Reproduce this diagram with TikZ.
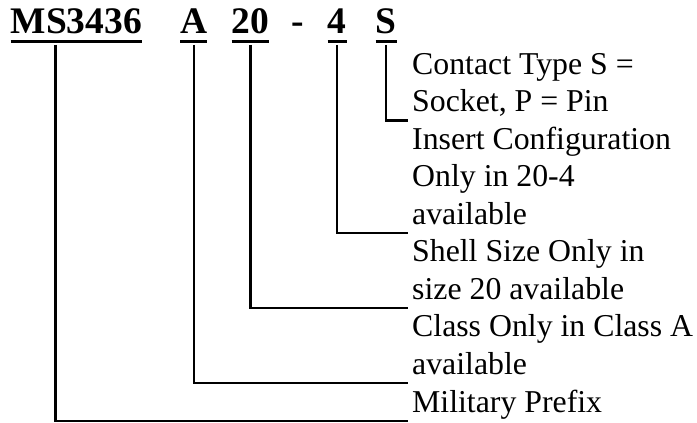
\documentclass[tikz,border=0pt]{standalone}
\usepackage{fontspec}
\setmainfont{Liberation Serif}
\begin{document}
\begin{tikzpicture}[x=1pt,y=1pt,
    code/.style={inner sep=0pt, anchor=base west, font=\fontsize{37.5}{40}\selectfont\bfseries},
    desc/.style={inner sep=0pt, anchor=base west, align=left, font=\fontsize{31.8}{37.5}\selectfont},
    uline/.style={line width=2.8pt},
    conn/.style={line width=2.4pt}]
    \useasboundingbox (0,0) rectangle (697,423);

    % part number
    \node[code] (prefix) at (10.5,389) {MS3436};
    \node[code] (cls) at (180,389) {A};
    \node[code] (size) at (231.5,389) {20};
    \node[code] (dash) at (291,389) {-};
    \node[code] (insert) at (327.5,389) {4};
    \node[code] (contact) at (375.5,389) {S};

    % underlines
    \foreach \n in {prefix,cls,size,insert,contact}
        \draw[uline] ([yshift=-7.5pt]\n.base west) -- ([yshift=-7.5pt]\n.base east);

    % descriptions
    \node[desc] (contacttxt) at (412,311) {Contact Type S =\\Socket, P = Pin};
    \node[desc] (inserttxt) at (412,198.5) {Insert Configuration\\Only in 20-4\\available};
    \node[desc] (sizetxt) at (412,123.5) {Shell Size Only in\\size 20 available};
    \node[desc] (clstxt) at (412,48.5) {Class Only in Class A\\available};
    \node[desc] (prefixtxt) at (412,10.5) {Military Prefix};

    % leaders
    \draw[conn] ([yshift=-11pt]contact.base) |- ([xshift=-4pt,yshift=-8.5pt]contacttxt.base west);
    \draw[conn] ([yshift=-11pt]insert.base) |- ([xshift=-4pt,yshift=-8.5pt]inserttxt.base west);
    \draw[conn] ([yshift=-11pt]size.base) |- ([xshift=-4pt,yshift=-8.5pt]sizetxt.base west);
    \draw[conn] ([yshift=-11pt]cls.base) |- ([xshift=-4pt,yshift=-8.5pt]clstxt.base west);
    \draw[conn] ([xshift=-21pt,yshift=-11pt]prefix.base) |- ([xshift=-4pt,yshift=-8.5pt]prefixtxt.base west);
\end{tikzpicture}
\end{document}
